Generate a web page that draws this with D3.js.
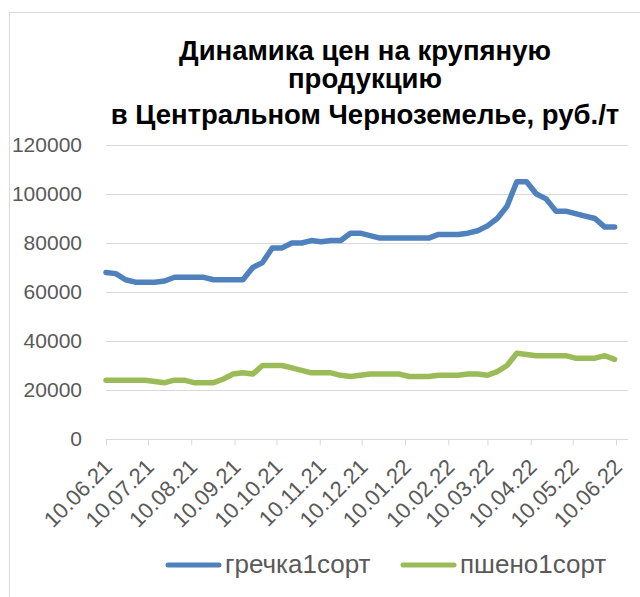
<!DOCTYPE html>
<html>
  <head>
    <meta charset="UTF-8" />
    <style>
      body {
        margin: 0;
        background: #fff;
      }
      svg {
        display: block;
        font-family: "Liberation Sans", Arial, sans-serif;
      }
    </style>
  </head>
  <body>
    <svg></svg>

    <script src="https://d3js.org/d3.v7.min.js"></script>

    <script>
      let width = 640,
        height = 597;

      // weekly observations
      const dates = [
        "10.06.21", "17.06.21", "24.06.21", "01.07.21", "08.07.21", "15.07.21",
        "22.07.21", "29.07.21", "05.08.21", "12.08.21", "19.08.21", "26.08.21",
        "02.09.21", "09.09.21", "16.09.21", "23.09.21", "30.09.21", "07.10.21",
        "14.10.21", "21.10.21", "28.10.21", "04.11.21", "11.11.21", "18.11.21",
        "25.11.21", "02.12.21", "09.12.21", "16.12.21", "23.12.21", "30.12.21",
        "06.01.22", "13.01.22", "20.01.22", "27.01.22", "03.02.22", "10.02.22",
        "17.02.22", "24.02.22", "03.03.22", "10.03.22", "17.03.22", "24.03.22",
        "31.03.22", "07.04.22", "14.04.22", "21.04.22", "28.04.22", "05.05.22",
        "12.05.22", "19.05.22", "26.05.22", "02.06.22", "09.06.22",
      ];

      const grechka = [
        68000, 67500, 65000, 64000, 64000, 64000, 64500, 66000, 66000, 66000,
        66000, 65000, 65000, 65000, 65000, 70000, 72000, 78000, 78000, 80000,
        80000, 81000, 80500, 81000, 81000, 84000, 84000, 83000, 82000, 82000,
        82000, 82000, 82000, 82000, 83500, 83500, 83500, 84000, 85000, 87000,
        90000, 95000, 105000, 105000, 100000, 98000, 93000, 93000, 92000, 91000,
        90000, 86500, 86500,
      ];

      const psheno = [
        24000, 24000, 24000, 24000, 24000, 23500, 23000, 24000, 24000, 23000,
        23000, 23000, 24500, 26500, 27000, 26500, 30000, 30000, 30000, 29000,
        28000, 27000, 27000, 27000, 26000, 25500, 26000, 26500, 26500, 26500,
        26500, 25500, 25500, 25500, 26000, 26000, 26000, 26500, 26500, 26000,
        27500, 30000, 35000, 34500, 34000, 34000, 34000, 34000, 33000, 33000,
        33000, 34000, 32500,
      ];

      const tickLabels = [
        "10.06.21", "10.07.21", "10.08.21", "10.09.21", "10.10.21", "10.11.21",
        "10.12.21", "10.01.22", "10.02.22", "10.03.22", "10.04.22", "10.05.22",
        "10.06.22",
      ];

      const yTicks = [0, 20000, 40000, 60000, 80000, 100000, 120000];

      const seriesNames = ["гречка1сорт", "пшено1сорт"];
      const colors = ["#4f81bd", "#9bbb59"];

      const titleLines = [
        "Динамика цен на крупяную",
        "продукцию",
        "в Центральном Черноземелье, руб./т",
      ];

      const parse = d3.timeParse("%d.%m.%y");

      let svg = d3
        .select("svg")
        .attr("width", width)
        .attr("height", height);

      // chart area border
      svg
        .append("rect")
        .attr("x", 9.5)
        .attr("y", 12.5)
        .attr("width", width)
        .attr("height", height)
        .attr("fill", "none")
        .attr("stroke", "#d9d9d9");

      let x = d3
        .scaleTime()
        .domain([parse(tickLabels[0]), parse(tickLabels[tickLabels.length - 1])])
        .range([106, 616]);

      let y = d3.scaleLinear().domain([0, 120000]).range([439, 145]);

      // title
      svg
        .append("text")
        .attr("text-anchor", "middle")
        .attr("font-weight", "bold")
        .attr("font-size", 27.5)
        .attr("fill", "#000")
        .selectAll("tspan")
        .data(titleLines)
        .enter()
        .append("tspan")
        .attr("x", 365)
        .attr("y", (d, i) => [60, 88, 124][i])
        .text((d) => d);

      // gridlines
      svg
        .append("g")
        .selectAll("line")
        .data(yTicks.slice(1))
        .enter()
        .append("line")
        .attr("x1", 106)
        .attr("x2", 628)
        .attr("y1", (d) => Math.round(y(d)) + 0.5)
        .attr("y2", (d) => Math.round(y(d)) + 0.5)
        .attr("stroke", "#d9d9d9");

      // y axis labels
      let yAxis = d3
        .axisLeft(y)
        .tickValues(yTicks)
        .tickSize(0)
        .tickPadding(24)
        .tickFormat(d3.format("d"));
      let gy = svg.append("g").attr("transform", "translate(106,0)").call(yAxis);
      gy.select(".domain").remove();
      gy.selectAll("text")
        .attr("font-family", "Liberation Sans, Arial, sans-serif")
        .attr("font-size", 21)
        .attr("fill", "#595959");

      // x axis
      let xAxis = d3
        .axisBottom(x)
        .tickValues(tickLabels.map(parse))
        .tickSize(6)
        .tickSizeOuter(0)
        .tickFormat(d3.timeFormat("%d.%m.%y"));
      let gx = svg
        .append("g")
        .attr("transform", "translate(0," + (Math.round(y(0)) + 0.5) + ")")
        .call(xAxis);
      gx.select(".domain").attr("stroke", "#d9d9d9").attr("d", "M106,0H628");
      gx.selectAll(".tick line").attr("stroke", "#d9d9d9");
      gx.selectAll("text")
        .attr("font-family", "Liberation Sans, Arial, sans-serif")
        .attr("font-size", 22)
        .attr("fill", "#595959")
        .attr("text-anchor", "end")
        .attr("y", 0)
        .attr("dx", "-0.7em")
        .attr("dy", "1.15em")
        .attr("transform", "rotate(-45)");

      // lines
      let line = d3
        .line()
        .x((d, i) => x(parse(dates[i])))
        .y((d) => y(d));

      [grechka, psheno].forEach((s, k) => {
        svg
          .append("path")
          .datum(s)
          .attr("d", line)
          .attr("fill", "none")
          .attr("stroke", colors[k])
          .attr("stroke-width", 5.5)
          .attr("stroke-linejoin", "round")
          .attr("stroke-linecap", "round");
      });

      // legend
      let legend = svg
        .append("g")
        .selectAll("g")
        .data(seriesNames)
        .enter()
        .append("g")
        .attr("transform", (d, i) => "translate(" + [168, 403][i] + ",565)");
      legend
        .append("line")
        .attr("x1", 0)
        .attr("x2", 51)
        .attr("stroke", (d, i) => colors[i])
        .attr("stroke-width", 5)
        .attr("stroke-linecap", "round");
      legend
        .append("text")
        .attr("x", 57)
        .attr("y", 8)
        .attr("font-size", 26)
        .attr("fill", "#595959")
        .text((d) => d);
    </script>
  </body>
</html>
